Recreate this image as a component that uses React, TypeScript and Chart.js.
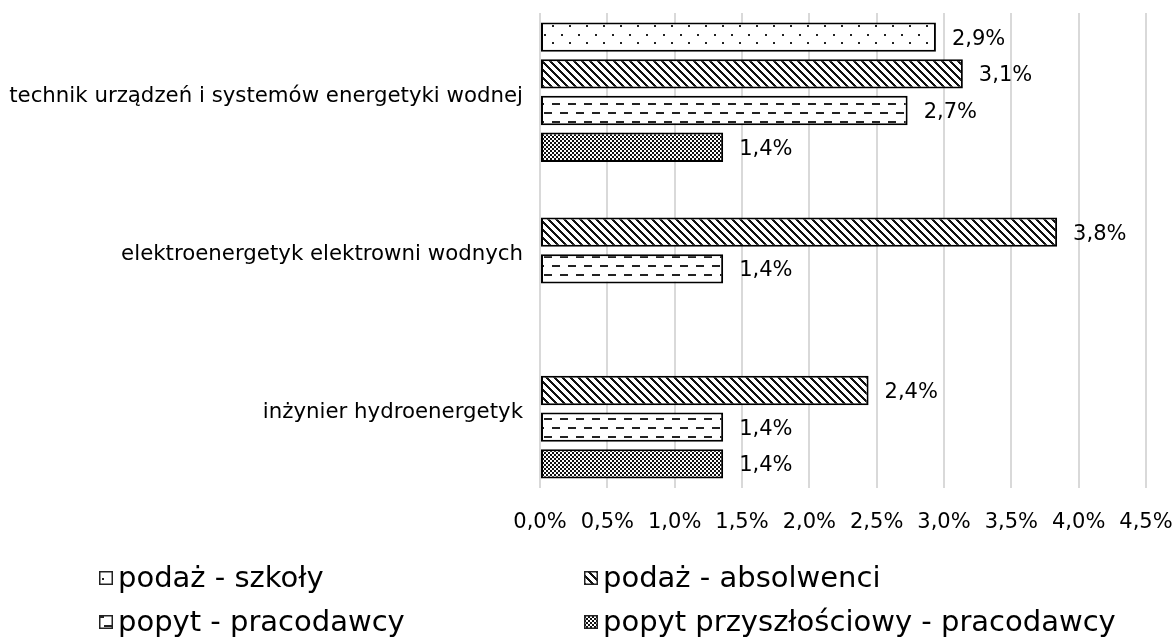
import React, { useEffect, useRef } from 'react';
import { Chart, registerables } from 'chart.js';

Chart.register(...registerables);

const categories = [
  'technik urządzeń i systemów energetyki wodnej',
  'elektroenergetyk elektrowni wodnych',
  'inżynier hydroenergetyk',
];
const seriesNames = [
  'podaż - szkoły',
  'podaż - absolwenci',
  'popyt - pracodawcy',
  'popyt przyszłościowy - pracodawcy',
];
const supplySchools: (number | null)[] = [2.94, null, null];
const supplyGraduates: (number | null)[] = [3.14, 3.84, 2.44];
const demandEmployers: (number | null)[] = [2.73, 1.36, 1.36];
const demandFuture: (number | null)[] = [1.36, null, 1.36];
const xMin = 0;
const xMax = 4.5;
const xStep = 0.5;

const FONT = '"DejaVu Sans", Verdana, sans-serif';

const fmtPct = (v: number) => v.toFixed(1).replace('.', ',') + '%';

type Kind = 'dots' | 'diag' | 'dash' | 'checker';

function makePattern(kind: Kind, ctx: CanvasRenderingContext2D): CanvasPattern | string {
  const c = document.createElement('canvas');
  const g = c.getContext('2d');
  if (!g) return '#888';
  if (kind === 'dots') {
    c.width = 17; c.height = 17;
    g.fillStyle = '#fff'; g.fillRect(0, 0, 17, 17);
    g.fillStyle = '#222';
    g.fillRect(0, 0, 2, 2);
    g.fillRect(8, 8, 2, 2);
  } else if (kind === 'diag') {
    c.width = 8; c.height = 8;
    g.fillStyle = '#fff'; g.fillRect(0, 0, 8, 8);
    g.fillStyle = '#111';
    for (let y = 0; y < 8; y++) {
      for (let x = 0; x < 8; x++) {
        const d = (((x - y) % 8) + 8) % 8;
        if (d === 0 || d === 1 || d === 2) g.fillRect(x, y, 1, 1);
      }
    }
  } else if (kind === 'dash') {
    c.width = 16; c.height = 18;
    g.fillStyle = '#fff'; g.fillRect(0, 0, 16, 18);
    g.fillStyle = '#222';
    g.fillRect(0, 4, 8, 2);
    g.fillRect(8, 13, 8, 2);
  } else {
    c.width = 4; c.height = 4;
    g.fillStyle = '#fff'; g.fillRect(0, 0, 4, 4);
    g.fillStyle = '#111';
    g.fillRect(0, 0, 2, 2);
    g.fillRect(2, 2, 2, 2);
  }
  return ctx.createPattern(c, 'repeat') || '#888';
}

export default function App() {
  const ref = useRef<HTMLCanvasElement | null>(null);

  useEffect(() => {
    const canvas = ref.current;
    if (!canvas) return;
    const ctx = canvas.getContext('2d');
    if (!ctx) return;

    const kinds: Kind[] = ['dots', 'diag', 'dash', 'checker'];
    const patterns = kinds.map((k) => makePattern(k, ctx));
    const seriesData = [supplySchools, supplyGraduates, demandEmployers, demandFuture];

    const valueLabels = {
      id: 'valueLabels',
      afterDatasetsDraw(chart: any) {
        const c = chart.ctx;
        c.save();
        c.font = `21px ${FONT}`;
        c.fillStyle = '#000';
        c.textBaseline = 'middle';
        c.textAlign = 'left';
        chart.data.datasets.forEach((ds: any, i: number) => {
          const meta = chart.getDatasetMeta(i);
          meta.data.forEach((el: any, j: number) => {
            const v = ds.data[j];
            if (v == null) return;
            c.fillText(fmtPct(v), el.x + 16, el.y + 2);
          });
        });
        c.restore();
      },
    };

    const legendPlugin = {
      id: 'customLegend',
      afterDraw(chart: any) {
        const c = chart.ctx;
        const cols = [99, 584];
        const rows = [578, 622];
        const box = 14;
        c.save();
        c.font = `29px ${FONT}`;
        c.textBaseline = 'middle';
        c.textAlign = 'left';
        seriesNames.forEach((name, i) => {
          const x = cols[i % 2];
          const y = rows[Math.floor(i / 2)];
          c.fillStyle = patterns[i];
          c.fillRect(x, y - box / 2, box, box);
          c.strokeStyle = '#222';
          c.lineWidth = 1.5;
          c.strokeRect(x + 0.75, y - box / 2 + 0.75, box - 1.5, box - 1.5);
          c.fillStyle = '#000';
          c.fillText(name, x + 19, y + 1);
        });
        c.restore();
      },
    };

    const chart = new Chart(ctx, {
      type: 'bar',
      data: {
        labels: categories,
        datasets: seriesNames.map((name, i) => ({
          label: name,
          data: seriesData[i],
          backgroundColor: patterns[i] as any,
          borderColor: '#000',
          borderWidth: 2,
          borderSkipped: false,
          barPercentage: 0.8,
          categoryPercentage: 0.927,
        })),
      },
      options: {
        indexAxis: 'y',
        responsive: false,
        animation: false,
        layout: { padding: 0 },
        plugins: {
          legend: { display: false },
          tooltip: { enabled: false },
        },
        scales: {
          x: {
            min: xMin,
            max: xMax,
            ticks: {
              stepSize: xStep,
              callback: (v: any) => fmtPct(Number(v)),
              font: { family: FONT, size: 21 },
              color: '#000',
              padding: 22,
              maxRotation: 0,
              autoSkip: false,
            },
            grid: { color: '#d9d9d9', lineWidth: 2, drawTicks: false },
            border: { display: false },
            afterFit: (s: any) => {
              s.height = 153;
              s.paddingLeft = 0;
              s.paddingRight = 29;
            },
          },
          y: {
            ticks: {
              font: { family: FONT, size: 21.3, lineHeight: 8 / 21.3 },
              color: '#000',
              padding: 17,
              callback: function (this: any, v: any) {
                return ['', this.getLabelForValue(Number(v))];
              },
            },
            grid: { display: false, drawTicks: false },
            border: { display: false },
            afterFit: (s: any) => {
              s.width = 540;
              s.paddingTop = 13;
              s.paddingBottom = 0;
            },
          },
        },
      },
      plugins: [valueLabels, legendPlugin],
    } as any);

    return () => chart.destroy();
  }, []);

  return (
    <div style={{ position: 'absolute', left: 0, top: 0, width: 1175, height: 641, background: '#fff' }}>
      <canvas ref={ref} width={1175} height={641} style={{ display: 'block', width: 1175, height: 641 }} />
    </div>
  );
}
